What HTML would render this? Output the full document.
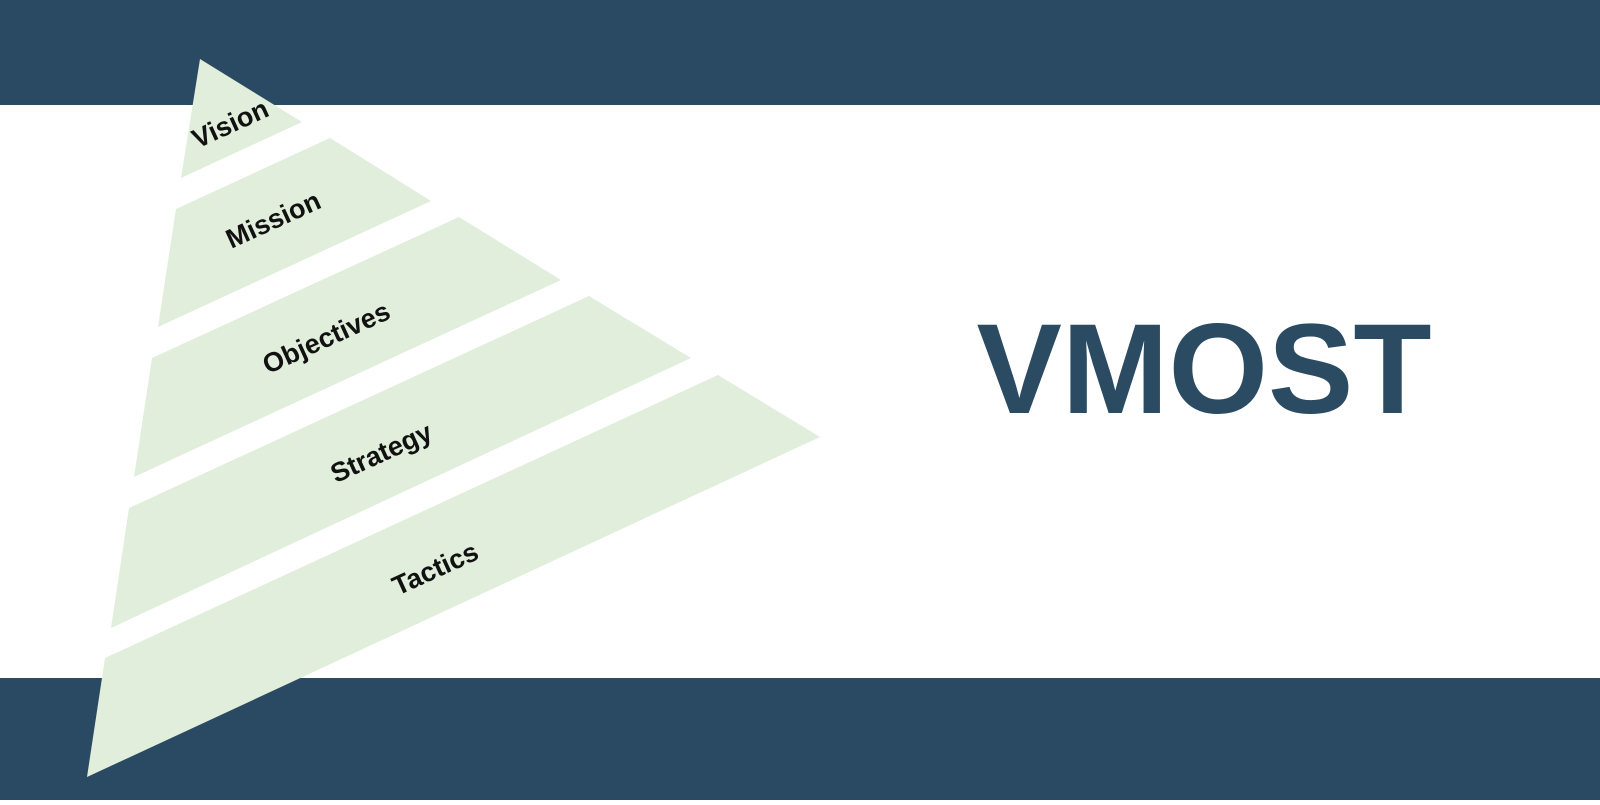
<!DOCTYPE html>
<html><head><style>
html,body{margin:0;padding:0;background:#fff;}
</style></head><body>
<svg width="1600" height="800" viewBox="0 0 1600 800" xmlns="http://www.w3.org/2000/svg">
<rect x="0" y="0" width="1600" height="800" fill="#ffffff"/>
<rect x="0" y="0" width="1600" height="105" fill="#2a4a63"/>
<rect x="0" y="678" width="1600" height="122" fill="#2a4a63"/>
<g fill="#e0eedb">
<polygon points="200,59 302,122 181,178"/>
<polygon points="176,209 330,138 431,201 158,327"/>
<polygon points="152,358 459,217 561,280 134,477"/>
<polygon points="129,508 589,296 691,358 111,628"/>
<polygon points="105,658 718,375 820,437 87,777"/>
</g>
<g font-family="Liberation Sans, sans-serif" font-weight="bold" font-size="27" fill="#111" text-anchor="middle">
<text transform="translate(234,132) rotate(-24.5)">Vision</text>
<text transform="translate(277,228) rotate(-24.5)">Mission</text>
<text transform="translate(330,346) rotate(-24.5)">Objectives</text>
<text transform="translate(385,461) rotate(-24.5)">Strategy</text>
<text transform="translate(439,577) rotate(-24.5)">Tactics</text>
</g>
<text x="1204" y="413" text-anchor="middle" font-family="Liberation Sans, sans-serif" font-weight="bold" font-size="128" fill="#2b4b63">VMOST</text>
</svg>
</body></html>
